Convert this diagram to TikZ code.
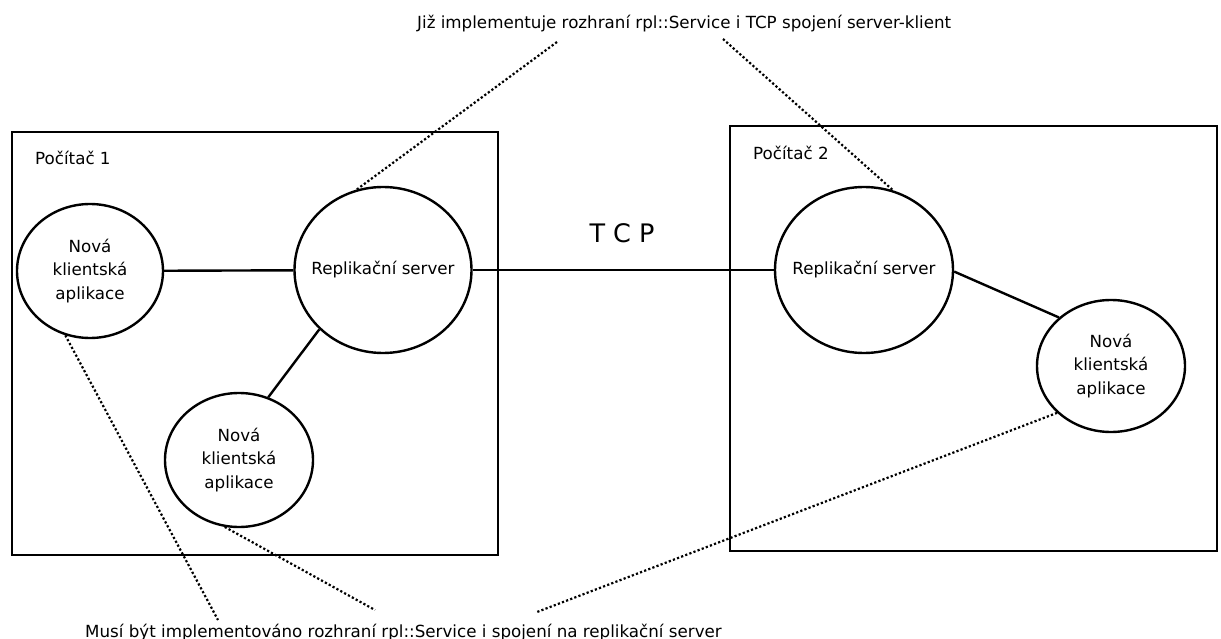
\documentclass[tikz,border=0pt]{standalone}
\usepackage{fontspec}
\setmainfont{DejaVu Sans}
\usetikzlibrary{shapes.geometric}
\tikzset{
  txt/.style={font=\fontsize{16.7}{23.3}\selectfont, inner sep=0pt},
  pcbox/.style={draw, line width=2.6pt, inner sep=0pt},
  % negative inner xsep keeps the label from widening the ellipse
  bubble/.style={ellipse, draw, line width=2.4pt, inner ysep=0pt, inner xsep=-45pt,
                 align=center, font=\fontsize{16.7}{23.3}\selectfont},
  link/.style={line width=2.4pt},
  note/.style={line width=2.2pt, dash pattern=on 2.2pt off 2.2pt}
}
\begin{document}
\begin{tikzpicture}[x=1pt, y=-1pt]
  \useasboundingbox (0,0) rectangle (1221,639);

  % computers
  \node (pc1) [pcbox, minimum width=486pt, minimum height=423pt] at (255,343.5) {};
  \node (pc2) [pcbox, minimum width=487pt, minimum height=425pt] at (973.5,338.5) {};
  \node (pc1lbl) [txt, anchor=base west] at (35,165) {Počítač 1};
  \node (pc2lbl) [txt, anchor=base west] at (753,160) {Počítač 2};

  % processes
  \node (c1) [bubble, minimum width=146pt, minimum height=134pt] at (90,271) {Nová\\klientská\\aplikace};
  \node (s1) [bubble, minimum width=177pt, minimum height=166pt] at (383,270) {Replikační server};
  \node (c3) [bubble, minimum width=148pt, minimum height=134pt] at (239,460) {Nová\\klientská\\aplikace};
  \node (s2) [bubble, minimum width=178pt, minimum height=166pt] at (864,270) {Replikační server};
  \node (c2) [bubble, minimum width=148pt, minimum height=132pt] at (1111,366) {Nová\\klientská\\aplikace};

  % connections
  \draw[link] (c1) -- (s1);
  \draw[link] (s1.223.6) -- (c3.65.3);
  \draw[link] (s1) -- (s2);
  \draw[link] (s2.-1) -- (c2.137.8);
  \node (tcp) [font=\fontsize{25.5}{30}\selectfont, inner sep=0pt] at (622,233) {T C P};

  % annotations
  \node (top) [txt, anchor=base west] at (417,29)
    {Již implementuje rozhraní rpl::Service i TCP spojení server-klient};
  \node (bottom) [txt, anchor=base west] at (85,637)
    {Musí být implementováno rozhraní rpl::Service i spojení na replikační server};
  \coordinate (t1) at (557,42);
  \coordinate (t2) at (723,39);
  \coordinate (b1) at (218,620);
  \coordinate (b2) at (375,610);
  \coordinate (b3) at (537,612);
  \draw[note] (t1) -- (s1.108.9);
  \draw[note] (t2) -- (s2.70.5);
  \draw[note] (c1.249.5) -- (b1);
  \draw[note] (c3.258) -- (b2);
  \draw[note] (c2.221) -- (b3);
\end{tikzpicture}
\end{document}
